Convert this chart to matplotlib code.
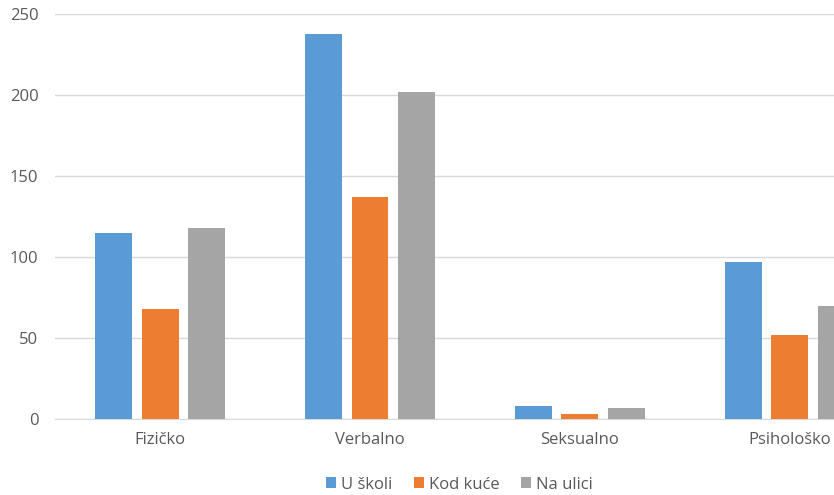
import matplotlib
matplotlib.use('Agg')
import matplotlib.pyplot as plt
import numpy as np

# podaci
categories = ["Fizičko", "Verbalno", "Seksualno", "Psihološko"]
series_names = ["U školi", "Kod kuće", "Na ulici"]
u_skoli = [115, 238, 8, 97]
kod_kuce = [68, 137, 3, 52]
na_ulici = [118, 202, 7, 70]
colors = ["#5B9BD5", "#ED7D31", "#A5A5A5"]

plt.rcParams['font.family'] = ['Open Sans', 'DejaVu Sans']

fig = plt.figure(figsize=(8.34, 4.95), dpi=100)
ax = fig.add_axes([0.066, 0.1535, 0.934, 0.818])

x = np.arange(len(categories))
width = 0.176
step = 0.222
for i, (vals, name) in enumerate(zip([u_skoli, kod_kuce, na_ulici], series_names)):
    ax.bar(x + (i - 1) * step, vals, width, color=colors[i], label=name, zorder=3)

ax.set_ylim(0, 250)
ax.set_xlim(-0.5, 3.21)
ax.set_yticks(range(0, 251, 50))
ax.set_xticks(x)
ax.set_xticklabels(categories)
ax.grid(axis='y', color='#D9D9D9', linewidth=1, zorder=0)
for s in ['top', 'right', 'left']:
    ax.spines[s].set_visible(False)
ax.spines['bottom'].set_color('#D9D9D9')
ax.tick_params(axis='both', length=0, colors='#595959', labelsize=12)
ax.tick_params(axis='y', pad=12)
ax.tick_params(axis='x', pad=9)

fig.legend(loc='center', bbox_to_anchor=(0.551, 0.021), ncol=3, frameon=False,
           fontsize=12, handlelength=0.6, handleheight=0.6, handletextpad=0.3,
           columnspacing=1.3, labelcolor='#595959', borderpad=0.2)

fig.savefig("out.png", dpi=100)
